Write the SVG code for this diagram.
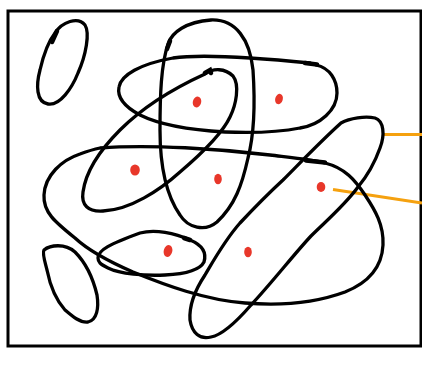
<svg xmlns="http://www.w3.org/2000/svg" width="422" height="369" viewBox="0 0 422 369">
<style>
.loop{fill:none;stroke:#000;stroke-width:3.3;stroke-linecap:round;stroke-linejoin:round}
.tick{fill:none;stroke:#000;stroke-width:4.5;stroke-linecap:round}
.dot{fill:#e8372a}
.link{fill:none;stroke:#f5a10f;stroke-width:3.2;stroke-linecap:butt}
</style>
<rect x="0" y="0" width="422" height="369" fill="#fff"/>
<rect id="frame" x="8" y="11" width="413" height="335" fill="none" stroke="#000" stroke-width="3"/>
<g id="connectors">
<path class="link" d="M383,134.5 L422,134.5"/>
<path class="link" d="M333,189.5 L422,203"/>
</g>
<g id="loop1"><path class="loop" d="M55,33 C62,22 78,16 85,25 C90,33 86,55 78,73 C72,88 60,106 48,104 C36,102 36,85 40,70 C43,57 48,42 55,33"/><path class="tick" d="M52,42 L57,31"/></g>
<g id="loop2"><path class="loop" d="M168,44 C172,32 186,22 211,20 C236,19 250,40 253,70 C255,100 254,135 248,158 C242,185 235,205 217,222 C205,232 188,228 180,215 C166,195 160,165 160,130 C160,95 161,65 168,44"/><path class="tick" d="M167,49 L170,41"/></g>
<g id="loop3"><path class="loop" d="M316,65 C330,68 337,80 337,93 C337,110 320,125 300,128 C280,132 250,133 225,132 C190,130 160,125 140,115 C125,107 117,97 119,87 C121,75 140,64 173,58 C200,54 260,58 310,63"/><path class="tick" d="M305,63 L317,64.5"/></g>
<g id="loop4"><path class="loop" d="M205,74 C213,68 225,68 233,76 C240,85 236,105 230,117 C222,134 200,155 180,172 C160,190 130,210 103,211 C88,212 81,205 83,192 C86,170 100,150 120,130 C140,110 170,90 205,74"/><path class="tick" d="M205,73 L210,70 L211,73"/></g>
<g id="loop5"><path class="loop" d="M100,148 C150,144 220,149 270,155 C295,158 315,160 325,163 C345,168 355,180 365,195 C375,210 384,225 383,245 C382,265 370,282 345,292 C315,303 280,306 245,303 C205,300 165,285 133,272 C110,262 90,252 75,238 C55,222 43,212 44,195 C45,175 62,160 80,154 C88,151 95,149 100,148 Z"/><path class="tick" d="M306,160.5 L325,162.5"/></g>
<g id="loop6"><path class="loop" d="M341,123 C350,118 365,116 375,118 C384,121 385,135 380,148 C375,162 368,175 358,187 C345,205 325,222 311,236 C295,253 270,285 251,305 C238,320 222,335 211,337 C200,340 192,333 190,320 C189,305 195,290 205,275 C215,258 225,240 240,223 C255,207 270,192 283,180 C300,163 320,142 341,123 Z"/></g>
<g id="loop7"><path class="loop" d="M98,258 C98,250 110,244 140,233 C155,229 175,233 190,240 C202,245 207,252 204,262 C200,270 185,274 165,275 C145,276 120,274 108,268 C100,264 98,262 98,258 Z"/><path class="tick" d="M184,238 L190,240"/></g>
<g id="loop8"><path class="loop" d="M44,250 C50,245 65,243 75,252 C85,262 93,278 97,295 C99,308 97,320 88,322 C80,323 72,316 65,310 C56,300 50,285 47,270 C45,262 42,253 44,250 Z"/></g>
<g id="dots">
<ellipse class="dot" cx="197" cy="102" rx="4.2" ry="5.5" transform="rotate(15 197 102)"/>
<ellipse class="dot" cx="279" cy="99" rx="3.8" ry="5.3" transform="rotate(15 279 99)"/>
<ellipse class="dot" cx="135" cy="170" rx="4.8" ry="5.5"/>
<ellipse class="dot" cx="218" cy="179" rx="3.8" ry="5.3"/>
<ellipse class="dot" cx="321" cy="187" rx="4.3" ry="5"/>
<ellipse class="dot" cx="168" cy="251" rx="4.3" ry="6" transform="rotate(15 168 251)"/>
<ellipse class="dot" cx="248" cy="252" rx="3.8" ry="5.3"/>
</g>
</svg>
